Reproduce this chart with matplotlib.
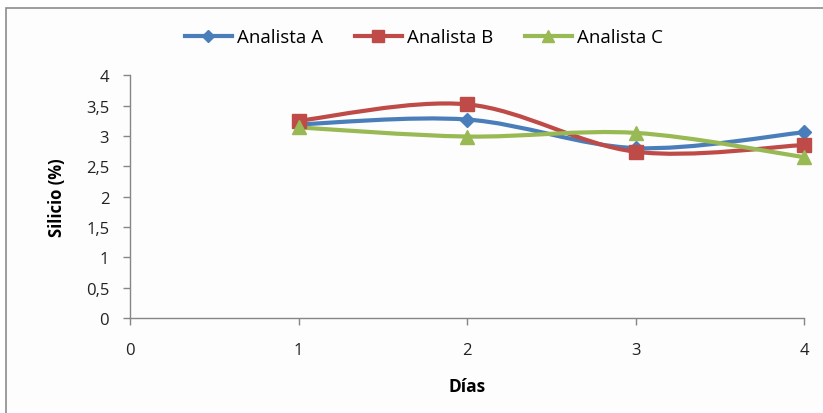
import numpy as np
import matplotlib.pyplot as plt
from matplotlib.path import Path
from matplotlib.patches import PathPatch, Rectangle
from matplotlib.lines import Line2D
from matplotlib.transforms import IdentityTransform

plt.rcParams['font.family'] = ['Open Sans', 'DejaVu Sans']

dias = [1, 2, 3, 4]
analista_a = [3.19, 3.27, 2.80, 3.06]
analista_b = [3.25, 3.52, 2.74, 2.85]
analista_c = [3.14, 2.99, 3.05, 2.65]

series = [
    ('Analista A', analista_a, '#4a7ebb', 'D', 7),
    ('Analista B', analista_b, '#be4b48', 's', 10),
    ('Analista C', analista_c, '#98b954', '^', 10),
]


def smooth_path(ax, x, y):
    # Excel-style smoothed line: cubic Bezier through every point,
    # control points taken from the neighbouring points (in display space)
    pts = ax.transData.transform(np.column_stack([x, y]))
    n = len(pts)
    verts = [pts[0]]
    codes = [Path.MOVETO]
    for i in range(n - 1):
        p0 = pts[i - 1] if i > 0 else pts[i]
        p1 = pts[i]
        p2 = pts[i + 1]
        p3 = pts[i + 2] if i + 2 < n else pts[i + 1]
        c1 = p1 + (p2 - p0) / 6
        c2 = p2 - (p3 - p1) / 6
        verts += [c1, c2, p2]
        codes += [Path.CURVE4] * 3
    return Path(verts, codes)


fig = plt.figure(figsize=(8.23, 4.14), dpi=100)
fig.patch.set_facecolor('white')
# chart area frame
fig.patches.append(Rectangle((6 / 823, -0.05), 1.1, 1 - 8.5 / 414 + 0.05,
                             transform=fig.transFigure, facecolor='#fdfdfd',
                             edgecolor='#8c8c8c', linewidth=1.2, zorder=-1))

ax = fig.add_axes([0.158, 0.229, 0.819, 0.587])
ax.set_facecolor('none')
ax.set_xlim(0, 4)
ax.set_ylim(0, 4)
ax.set_xticks([0, 1, 2, 3, 4])
ax.set_yticks(np.arange(0, 4.01, 0.5))
ax.set_yticklabels([f'{v:g}'.replace('.', ',') for v in np.arange(0, 4.01, 0.5)])

for side in ['top', 'right']:
    ax.spines[side].set_visible(False)
for side in ['left', 'bottom']:
    ax.spines[side].set_color('#868686')
    ax.spines[side].set_linewidth(1.0)
ax.tick_params(axis='both', direction='out', length=5, width=1.0,
               color='#868686', labelsize=12, labelcolor='#222222')
ax.tick_params(axis='x', pad=12)
ax.tick_params(axis='y', pad=10)

ax.set_xlabel('Días', fontsize=12.5, fontweight='bold', labelpad=14)
ax.set_ylabel('Silicio (%)', fontsize=12, fontweight='bold', labelpad=14)

fig.canvas.draw()

handles = []
for name, vals, color, marker, ms in series:
    path = smooth_path(ax, dias, vals)
    ax.add_artist(PathPatch(path, transform=IdentityTransform(), facecolor='none',
                            edgecolor=color, linewidth=3, clip_on=False, zorder=3))
    ax.plot(dias, vals, linestyle='none', marker=marker, markersize=ms,
            color=color, clip_on=False, zorder=4)
    handles.append(Line2D([], [], color=color, linewidth=3, marker=marker,
                          markersize=ms * 0.9, label=name))

fig.legend(handles=handles, loc='center', bbox_to_anchor=(0.515, 0.908),
           ncol=3, frameon=False, fontsize=13.5, handlelength=2.5,
           handletextpad=0.27, columnspacing=1.7)

fig.savefig('out.png', dpi=100)
